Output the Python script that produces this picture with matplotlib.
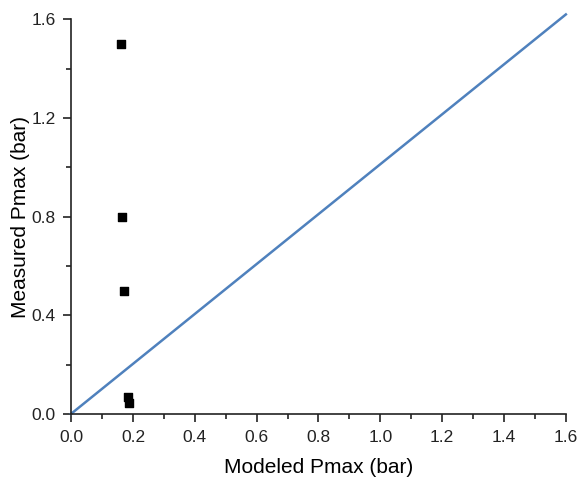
import numpy as np
import matplotlib
matplotlib.use("Agg")
import matplotlib.pyplot as plt
from matplotlib.ticker import MultipleLocator

plt.rcParams['font.family'] = ['Liberation Sans', 'DejaVu Sans']

# measured vs modeled maximum pressure
modeled = [0.161, 0.165, 0.172, 0.184, 0.186]
measured = [1.50, 0.80, 0.50, 0.07, 0.045]

# 1:1 reference line
ref_x = [0.0, 1.6]
ref_y = [0.0, 1.62]

fig = plt.figure(figsize=(5.78, 4.84), dpi=100)
ax = fig.add_axes([0.123, 0.145, 0.856, 0.815])

ax.plot(ref_x, ref_y, color="#4f81bd", lw=1.8, clip_on=False, zorder=2)
ax.scatter(modeled, measured, marker="s", s=34, color="black", zorder=3, clip_on=False)

ax.set_xlim(0, 1.6)
ax.set_ylim(0, 1.6)
ax.xaxis.set_major_locator(MultipleLocator(0.2))
ax.xaxis.set_minor_locator(MultipleLocator(0.1))
ax.yaxis.set_major_locator(MultipleLocator(0.4))
ax.yaxis.set_minor_locator(MultipleLocator(0.2))
ax.xaxis.set_major_formatter(plt.FormatStrFormatter("%.1f"))
ax.yaxis.set_major_formatter(plt.FormatStrFormatter("%.1f"))

for side in ["top", "right"]:
    ax.spines[side].set_visible(False)
for side in ["left", "bottom"]:
    ax.spines[side].set_linewidth(1.2)
    ax.spines[side].set_color("#222222")

ax.tick_params(which="major", direction="out", length=6, width=1.2, pad=6,
               labelsize=12.5, colors="#222222")
ax.tick_params(which="major", axis="y", pad=5)
ax.tick_params(which="minor", direction="out", length=3.5, width=1.2, colors="#222222")

ax.set_xlabel("Modeled Pmax (bar)", fontsize=15, labelpad=9)
ax.set_ylabel("Measured Pmax (bar)", fontsize=15, labelpad=1)

fig.savefig("out.png", dpi=100)
